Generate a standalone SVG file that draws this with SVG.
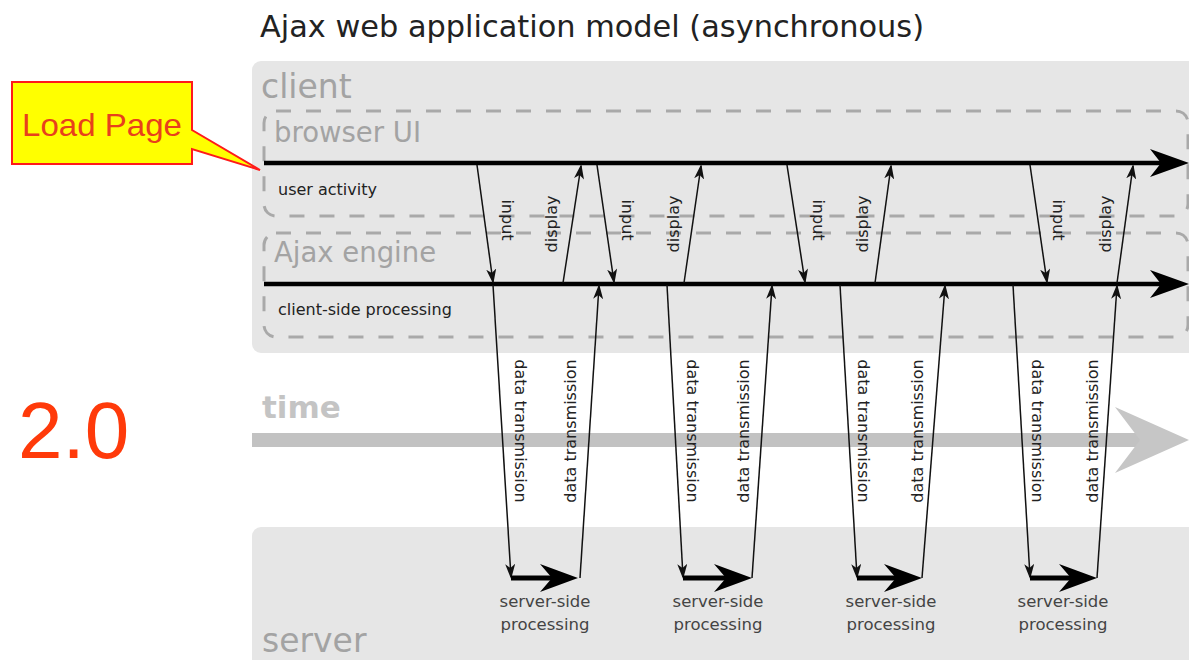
<svg xmlns="http://www.w3.org/2000/svg" width="1189" height="660" viewBox="0 0 1189 660">
<defs>
<style>
.sans{font-family:"DejaVu Sans","Liberation Sans",sans-serif}
.panel{fill:#e6e6e6}
.lane{fill:none;stroke:#a9a9a9;stroke-width:3;stroke-dasharray:15 15}
.lanetitle{font-size:27.5px;fill:#a3a3a3}
.big{font-size:33px;fill:#a3a3a3}
.small{font-size:16px;fill:#222}
.lbl{font-size:16px;fill:#222;text-anchor:middle;dominant-baseline:central}
.ssp{font-size:16.5px;fill:#444;text-anchor:middle}
.thin{stroke:#111;stroke-width:1.5;fill:none;marker-end:url(#thinHead)}
.thick{stroke:#000;stroke-width:4.5;fill:none}
.srv{stroke:#000;stroke-width:5;fill:none;marker-end:url(#srvHead)}
</style>
<marker id="thinHead" markerUnits="userSpaceOnUse" markerWidth="15" markerHeight="10" refX="13" refY="5" orient="auto" viewBox="0 0 15 10">
<path d="M0,0 L15,5 L0,10 L4,5 Z" fill="#111"/>
</marker>
<marker id="srvHead" markerUnits="userSpaceOnUse" markerWidth="38" markerHeight="28" refX="26" refY="14" orient="auto" viewBox="0 0 38 28">
<path d="M0,0 L38,14 L0,28 L12,14 Z" fill="#000"/>
</marker>
</defs>
<rect width="1189" height="660" fill="#ffffff"/>

<g id="title">
<text class="sans" x="260" y="37" font-size="30" fill="#222" textLength="664" lengthAdjust="spacingAndGlyphs">Ajax web application model (asynchronous)</text>
</g>

<g id="client">
<rect class="panel" x="252" y="61" width="960" height="292" rx="9"/>
<text class="sans big" x="261" y="98">client</text>
</g>

<g id="browser-ui">
<rect class="lane" x="264" y="111" width="924" height="105" rx="12"/>
<text class="sans lanetitle" x="274" y="142">browser UI</text>
<text class="sans small" x="278" y="195">user activity</text>
</g>

<g id="ajax-engine">
<rect class="lane" x="264" y="233" width="924" height="104" rx="12"/>
<text class="sans lanetitle" x="274" y="262">Ajax engine</text>
<text class="sans small" x="278" y="315">client-side processing</text>
</g>

<g id="time">
<text class="sans" x="262" y="418" font-size="31" font-weight="bold" fill="#c4c4c4">time</text>
<rect x="252" y="433" width="890" height="14" fill="#c2c2c2"/>
<path d="M1115,407 L1189,440 L1115,473 L1140,440 Z" fill="#c6c6c6"/>
</g>

<g id="server">
<rect class="panel" x="252" y="527" width="960" height="150" rx="9"/>
<text class="sans big" x="262" y="652" fill="#9a9a9a">server</text>
</g>

<g id="load-page">
<path d="M12,82 H192 V130 L260,170 L192,149 V164 H12 Z" fill="#ffff00" stroke="#ff1a1a" stroke-width="2"/>
<text x="22" y="136" font-family="Liberation Sans, Arial, sans-serif" font-size="32" fill="#e8401c" textLength="160" lengthAdjust="spacingAndGlyphs">Load Page</text>
</g>

<g id="version">
<text x="18" y="458" font-family="Liberation Sans, Arial, sans-serif" font-size="80" fill="#ff3a0a">2.0</text>
</g>

<g id="connectors">
<line class="thick" x1="264" y1="163" x2="1162" y2="163"/>
<path d="M1150,149 L1189,163 L1150,177 L1161,163 Z" fill="#000"/>
<line class="thick" x1="264" y1="284" x2="1162" y2="284"/>
<path d="M1150,270 L1189,284 L1150,298 L1161,284 Z" fill="#000"/>

<line class="thin" x1="477" y1="165" x2="493" y2="282"/>
<line class="thin" x1="563" y1="283" x2="581" y2="166"/>
<line class="thin" x1="493" y1="285" x2="511" y2="577"/>
<line class="srv" x1="511" y1="578" x2="566" y2="578"/>
<line class="thin" x1="580" y1="578" x2="599" y2="286"/>

<line class="thin" x1="597" y1="165" x2="614" y2="282"/>
<line class="thin" x1="684" y1="283" x2="701" y2="166"/>
<line class="thin" x1="667" y1="285" x2="683" y2="577"/>
<line class="srv" x1="683" y1="578" x2="740" y2="578"/>
<line class="thin" x1="752" y1="578" x2="772" y2="286"/>

<line class="thin" x1="787" y1="165" x2="805" y2="282"/>
<line class="thin" x1="875" y1="283" x2="891" y2="166"/>
<line class="thin" x1="840" y1="285" x2="857" y2="577"/>
<line class="srv" x1="857" y1="578" x2="910" y2="578"/>
<line class="thin" x1="922" y1="578" x2="945" y2="286"/>

<line class="thin" x1="1030" y1="165" x2="1047" y2="282"/>
<line class="thin" x1="1117" y1="283" x2="1133" y2="166"/>
<line class="thin" x1="1013" y1="285" x2="1030" y2="577"/>
<line class="srv" x1="1030" y1="578" x2="1085" y2="578"/>
<line class="thin" x1="1097" y1="578" x2="1117" y2="286"/>

<g class="sans">
<text class="lbl" transform="translate(507,220) rotate(90)">input</text>
<text class="lbl" transform="translate(551,224) rotate(-90)">display</text>
<text class="lbl" font-size="16.5" transform="translate(520,431) rotate(90)">data transmission</text>
<text class="lbl" font-size="16.5" transform="translate(570,431) rotate(-90)">data transmission</text>

<text class="lbl" transform="translate(627,220) rotate(90)">input</text>
<text class="lbl" transform="translate(673,224) rotate(-90)">display</text>
<text class="lbl" font-size="16.5" transform="translate(692,431) rotate(90)">data transmission</text>
<text class="lbl" font-size="16.5" transform="translate(743,431) rotate(-90)">data transmission</text>

<text class="lbl" transform="translate(818,220) rotate(90)">input</text>
<text class="lbl" transform="translate(862,224) rotate(-90)">display</text>
<text class="lbl" font-size="16.5" transform="translate(863,431) rotate(90)">data transmission</text>
<text class="lbl" font-size="16.5" transform="translate(917,431) rotate(-90)">data transmission</text>

<text class="lbl" transform="translate(1058,220) rotate(90)">input</text>
<text class="lbl" transform="translate(1105,224) rotate(-90)">display</text>
<text class="lbl" font-size="16.5" transform="translate(1037,431) rotate(90)">data transmission</text>
<text class="lbl" font-size="16.5" transform="translate(1092,431) rotate(-90)">data transmission</text>
</g>
</g>

<g id="server-side-processing" class="sans">
<text class="ssp" x="545" y="607">server-side</text>
<text class="ssp" x="545" y="630">processing</text>
<text class="ssp" x="718" y="607">server-side</text>
<text class="ssp" x="718" y="630">processing</text>
<text class="ssp" x="891" y="607">server-side</text>
<text class="ssp" x="891" y="630">processing</text>
<text class="ssp" x="1063" y="607">server-side</text>
<text class="ssp" x="1063" y="630">processing</text>
</g>
</svg>
